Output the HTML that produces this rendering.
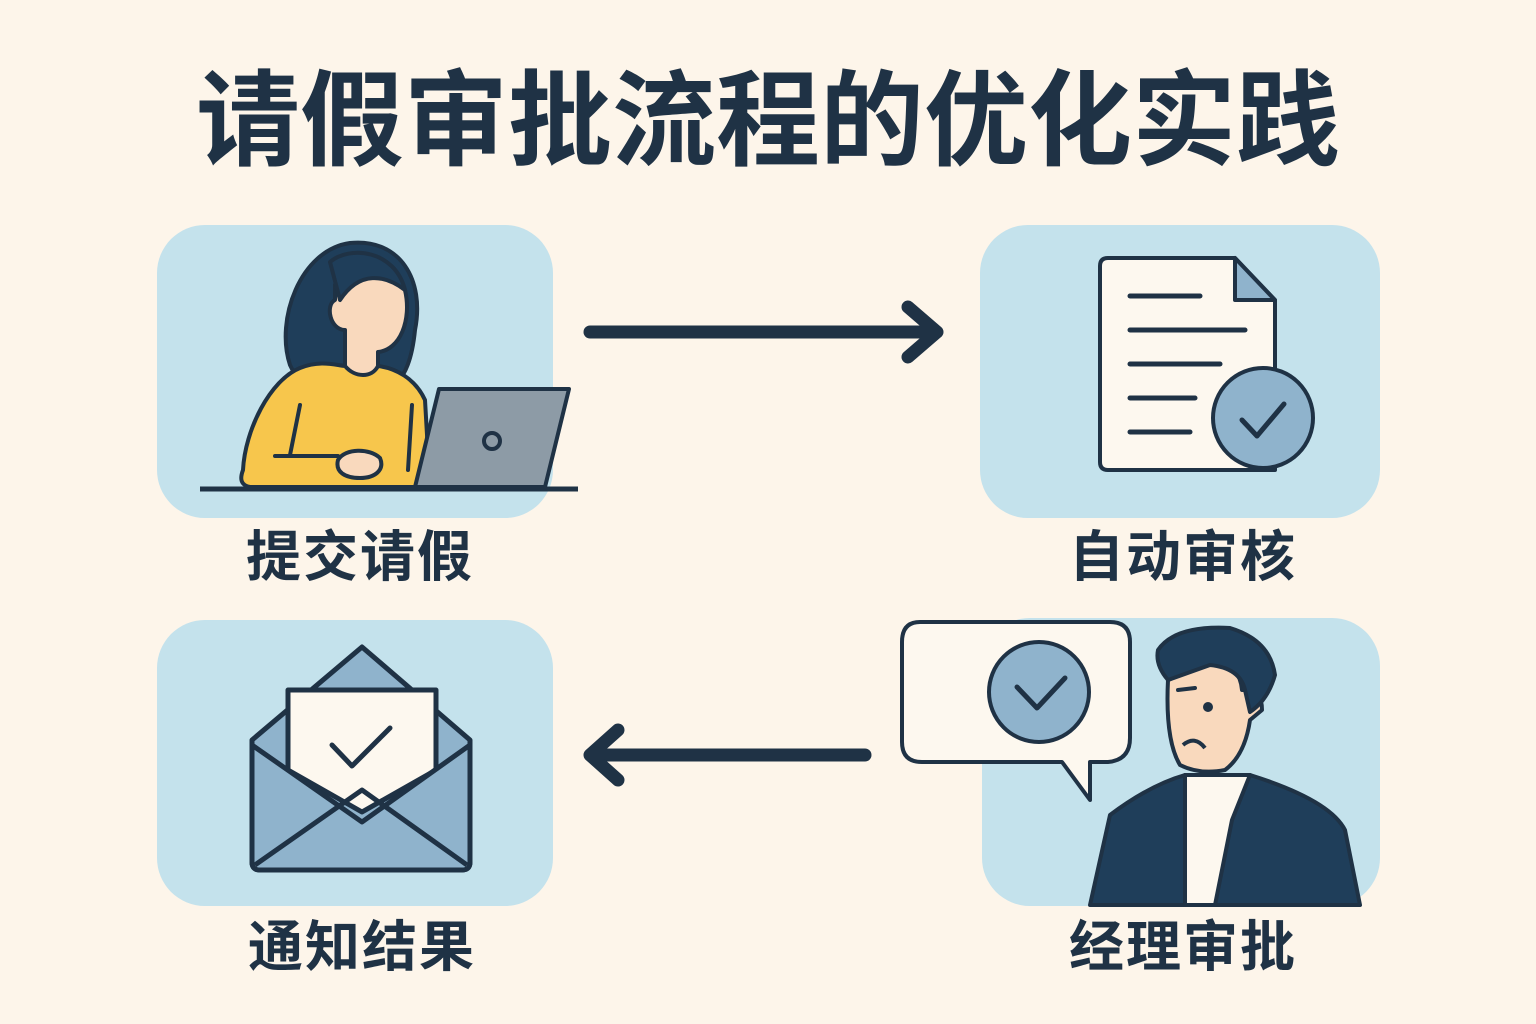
<!DOCTYPE html>
<html><head><meta charset="utf-8"><style>
html,body{margin:0;padding:0;background:#fdf5ea;}
svg{display:block}
text{font-family:"Liberation Sans","Noto Sans CJK SC",sans-serif;font-weight:bold;fill:#1f3245}
</style></head><body>
<svg width="1536" height="1024" viewBox="0 0 1536 1024" xmlns="http://www.w3.org/2000/svg">
<rect width="1536" height="1024" fill="#fdf5ea"/>
<text x="768" y="157" font-size="104" text-anchor="middle" letter-spacing="0">请假审批流程的优化实践</text>

<g fill="#c4e2ec">
<rect x="157" y="225" width="396" height="293" rx="48"/>
<rect x="980" y="225" width="400" height="293" rx="48"/>
<rect x="157" y="620" width="396" height="286" rx="48"/>
<rect x="982" y="618" width="398" height="288" rx="48"/>
</g>

<g font-size="55">
<text x="360" y="576" text-anchor="middle" letter-spacing="2">提交请假</text>
<text x="1183" y="576" text-anchor="middle" letter-spacing="2">自动审核</text>
<text x="362" y="966" text-anchor="middle" letter-spacing="2">通知结果</text>
<text x="1183" y="966" text-anchor="middle" letter-spacing="2">经理审批</text>
</g>

<g stroke="#1f3245" stroke-width="13" stroke-linecap="round" stroke-linejoin="round" fill="none">
<line x1="590" y1="332" x2="935" y2="332"/>
<polyline points="908,307 937,332 908,357"/>
<line x1="865" y1="755" x2="592" y2="755"/>
<polyline points="618,730 590,755 618,780"/>
</g>

<!-- person -->
<g stroke="#1f3245" stroke-width="4" stroke-linejoin="round">
<path d="M290,365 C275,320 300,250 350,243 C400,238 425,280 415,330 C412,360 405,375 395,385 L300,385 Z" fill="#1f3e5a"/>
<path d="M335,285 C340,265 385,262 405,290 C412,320 400,350 378,352 L378,375 L345,375 L345,330 C330,330 325,305 335,300 Z" fill="#f9d9bd"/>
<path d="M330,262 C350,245 395,250 405,290 C385,275 360,270 340,300 Z" fill="#1f3e5a"/>
<path d="M243,470 C245,430 270,380 300,368 C320,360 335,365 345,366 C355,378 372,378 378,366 C395,368 415,378 425,400 L430,487 L250,487 C240,485 240,478 243,470 Z" fill="#f7c64c"/>
<path d="M338,460 C345,448 370,448 380,458 C385,470 375,478 360,478 C345,478 335,472 338,460 Z" fill="#f9d9bd"/>
<line x1="300" y1="405" x2="290" y2="455" stroke-linecap="round"/>
<line x1="275" y1="456" x2="338" y2="456" stroke-linecap="round"/>
<line x1="412" y1="405" x2="408" y2="470" stroke-linecap="round"/>
<path d="M439,389 L569,389 L545,487 L415,487 Z" fill="#8d9ba6"/>
<circle cx="492" cy="441" r="8" fill="#8d9ba6"/>
<line x1="200" y1="489" x2="578" y2="489" stroke-width="5"/>
</g>

<!-- document -->
<g stroke="#1f3245" stroke-width="4" stroke-linejoin="round">
<path d="M1108,258 L1235,258 L1275,300 L1275,470 L1108,470 Q1100,470 1100,462 L1100,266 Q1100,258 1108,258 Z" fill="#fdf8ef"/>
<path d="M1235,258 L1235,300 L1275,300 Z" fill="#8fb3cc"/>
<g stroke-width="5" stroke-linecap="round">
<line x1="1130" y1="296" x2="1200" y2="296"/>
<line x1="1130" y1="330" x2="1245" y2="330"/>
<line x1="1130" y1="364" x2="1220" y2="364"/>
<line x1="1130" y1="398" x2="1195" y2="398"/>
<line x1="1130" y1="432" x2="1190" y2="432"/>
</g>
<circle cx="1263" cy="418" r="50" fill="#8fb3cc"/>
<polyline points="1242,420 1257,436 1284,404" fill="none" stroke-width="5" stroke-linecap="round"/>
</g>

<!-- envelope -->
<g stroke="#1f3245" stroke-width="5" stroke-linejoin="round">
<path d="M252,740 L362,647 L470,740 L470,862 Q470,870 462,870 L260,870 Q252,870 252,862 Z" fill="#8fb3cc"/>
<path d="M288,690 L436,690 L436,770 L362,812 L288,770 Z" fill="#fdf8ef"/>
<path d="M252,745 L362,822 L470,745 L470,862 Q470,870 462,870 L260,870 Q252,870 252,862 Z" fill="#8fb3cc"/>
<path d="M255,865 L362,790 L467,865" fill="none"/>
<polyline points="332,745 352,766 390,728" fill="none" stroke-linecap="round"/>
</g>

<!-- manager -->
<g stroke="#1f3245" stroke-width="4" stroke-linejoin="round">
<path d="M920,622 L1110,622 Q1130,622 1130,642 L1130,738 Q1130,760 1108,762 L1090,762 L1090,800 L1062,762 L922,762 Q902,762 902,742 L902,642 Q902,622 920,622 Z" fill="#fdf8ef"/>
<circle cx="1039" cy="692" r="50" fill="#8fb3cc"/>
<polyline points="1017,687 1037,708 1065,678" fill="none" stroke-width="5" stroke-linecap="round"/>
<path d="M1090,905 L1110,815 Q1150,785 1185,775 L1250,775 Q1330,800 1345,830 L1360,905 Z" fill="#1f3e5a"/>
<path d="M1185,775 L1250,775 L1232,820 L1215,905 L1185,905 L1185,810 Z" fill="#fdf8ef"/>
<path d="M1168,680 Q1165,740 1180,765 Q1200,775 1225,770 Q1245,755 1250,720 L1262,710 Q1262,690 1245,690 L1242,690 Q1240,665 1215,660 Z" fill="#f9d9bd"/>
<path d="M1158,650 Q1175,625 1230,628 Q1270,640 1275,675 Q1268,700 1250,712 L1245,690 Q1240,668 1210,665 L1168,680 Q1155,665 1158,650 Z" fill="#1f3e5a"/>
<line x1="1178" y1="690" x2="1195" y2="688" stroke-linecap="round"/>
<circle cx="1208" cy="707" r="3" fill="#1f3245"/>
<path d="M1183,745 Q1195,735 1205,748" fill="none"/>
</g>
</svg>
</body></html>
